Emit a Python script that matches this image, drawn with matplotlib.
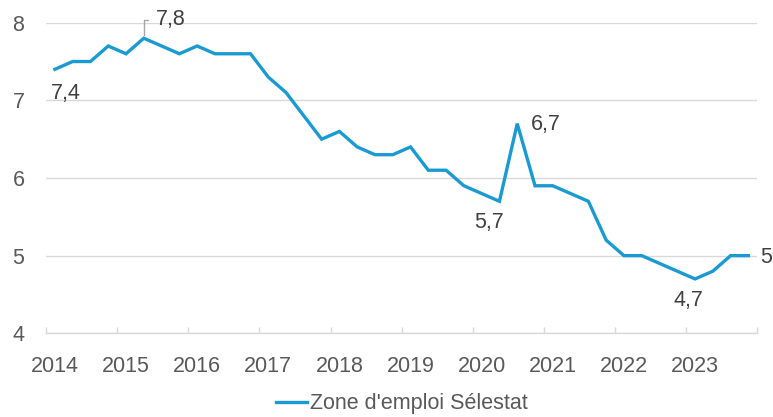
import matplotlib
matplotlib.use("Agg")
import matplotlib.pyplot as plt
import numpy as np

# Data (quarterly, 2014 Q1 .. 2023 Q4)
years = [str(y) for y in range(2014, 2024)]
values = [7.4, 7.5, 7.5, 7.7, 7.6, 7.8, 7.7, 7.6, 7.7, 7.6,
          7.6, 7.6, 7.3, 7.1, 6.8, 6.5, 6.6, 6.4, 6.3, 6.3,
          6.4, 6.1, 6.1, 5.9, 5.8, 5.7, 6.7, 5.9, 5.9, 5.8,
          5.7, 5.2, 5.0, 5.0, 4.9, 4.8, 4.7, 4.8, 5.0, 5.0]
series_name = "Zone d'emploi Sélestat"
# labelled points: index -> offset in pixels (dx, dy)
label_idx = [0, 5, 25, 26, 36, 39]
label_off_px = [(11, -24), (0, 0), (-10, -21), (28.5, -1), (-6.3, -21.2), (17.4, -1.8)]

plt.rcParams['font.family'] = ['Liberation Sans', 'DejaVu Sans']
FS = 15.5
PX = 72.0 / 100.0  # points per pixel at dpi 100

line_color = "#1A9AD3"
text_color = "#404040"
tick_color = "#595959"
grid_color = "#D9D9D9"

fig = plt.figure(figsize=(7.73, 4.17), dpi=100)
ax = fig.add_axes([46 / 773, 1 - 333.3 / 417, (757.3 - 46) / 773, (333.3 - 22.7) / 417])

x = np.arange(len(values))
ax.plot(x, values, color=line_color, lw=2.4, solid_joinstyle='miter', clip_on=False,
        label=series_name, zorder=3)

ax.set_xlim(-0.5, len(values) - 0.5)
ax.set_ylim(4, 8)
ax.set_yticks([4, 5, 6, 7, 8])
ax.set_yticklabels(["4", "5", "6", "7", "8"])
ax.grid(axis='y', color=grid_color, lw=1.0)
ax.set_axisbelow(True)

# x ticks: marks at year boundaries, labels at first quarter of each year
ax.set_xticks(np.arange(-0.5, len(values), 4))
ax.set_xticklabels([])
ax.set_xticks(np.arange(0, len(values), 4), minor=True)
ax.set_xticklabels(years, minor=True)
ax.tick_params(axis='x', which='major', direction='in', length=6.5 * PX, width=1,
               color=grid_color)
ax.tick_params(axis='x', which='minor', length=0, pad=16, labelsize=FS, labelcolor=tick_color)
ax.tick_params(axis='y', length=0, pad=15.5, labelsize=FS, labelcolor=tick_color)

for s in ['top', 'right', 'left']:
    ax.spines[s].set_visible(False)
ax.spines['bottom'].set_color(grid_color)
ax.spines['bottom'].set_linewidth(1.0)

def fmt(v):
    s = ("%.1f" % v).replace('.', ',')
    if s.endswith(',0'):
        s = s[:-2]
    return s

for i, (dx, dy) in zip(label_idx, label_off_px):
    if i == 5:
        ax.annotate(fmt(values[i]), xy=(i, values[i]),
                    xytext=(12 * PX, 18.7 * PX), textcoords='offset points',
                    ha='left', va='center', fontsize=FS, color=text_color,
                    arrowprops=dict(arrowstyle='-', color='#A6A6A6', lw=1,
                                    connectionstyle='angle,angleA=0,angleB=90,rad=0',
                                    relpos=(0, 0.5), shrinkA=5 * PX, shrinkB=3.5 * PX),
                    annotation_clip=False)
    else:
        ax.annotate(fmt(values[i]), xy=(i, values[i]),
                    xytext=(dx * PX, dy * PX), textcoords='offset points',
                    ha='center', va='center', fontsize=FS, color=text_color,
                    annotation_clip=False)

leg = fig.legend(loc='center', bbox_to_anchor=(0.52, 0.032), frameon=False,
                 fontsize=FS, handlelength=1.45, handletextpad=0.15,
                 labelcolor=tick_color)

fig.savefig("out.png", dpi=100)
